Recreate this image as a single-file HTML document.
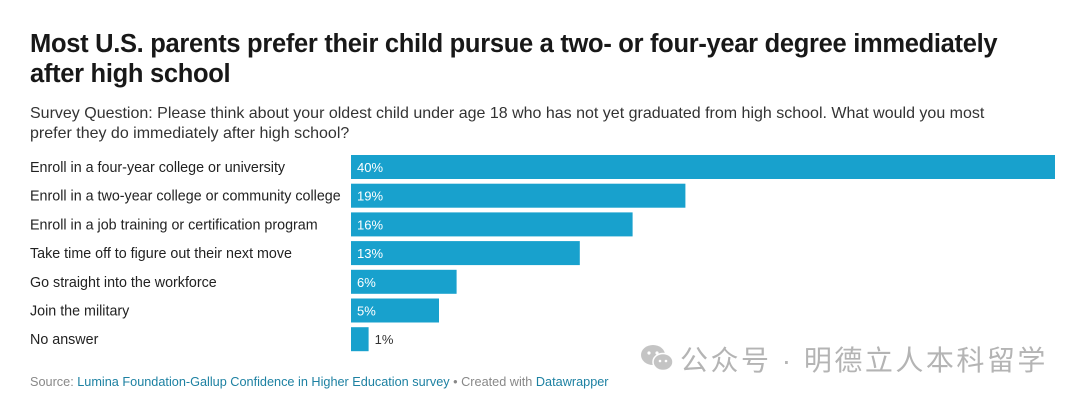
<!DOCTYPE html>
<html><head><meta charset="utf-8"><style>
body{margin:0;width:1080px;height:402px;background:#fff;font-family:"Liberation Sans","Noto Sans CJK SC",sans-serif;position:relative;overflow:hidden;color:#222}
.t{position:absolute;left:30px;top:29px;font-size:25.5px;font-weight:bold;line-height:30px;width:975px;letter-spacing:-0.3px;color:#181818}
.s{position:absolute;left:30px;top:104px;font-size:16px;line-height:19.5px;width:995px;color:#333}
.src{position:absolute;left:30px;top:375px;font-size:12.7px;color:#888}
.src a{color:#1d81a2;text-decoration:none}
.wm{position:absolute;left:680px;top:339px;font-size:28px;color:#b4b4b4;letter-spacing:2.5px}
</style></head><body>
<div class="t">Most U.S. parents prefer their child pursue a two- or four-year degree immediately after high school</div>
<div class="s">Survey Question: Please think about your oldest child under age 18 who has not yet graduated from high school. What would you most prefer they do immediately after high school?</div>
<svg id="c" width="1080" height="402" style="position:absolute;left:0;top:0"></svg>
<div class="src">Source: <a>Lumina Foundation-Gallup Confidence in Higher Education survey</a> • Created with <a>Datawrapper</a></div>
<svg style="position:absolute;left:640px;top:342px" width="36" height="32">
<ellipse cx="13" cy="13" rx="12" ry="10" fill="#c4c4c4"/><ellipse cx="23" cy="20" rx="10" ry="8.5" fill="#c4c4c4" stroke="#fff" stroke-width="1.5"/>
<circle cx="9" cy="11" r="1.6" fill="#fff"/><circle cx="17" cy="11" r="1.6" fill="#fff"/><circle cx="20" cy="19" r="1.3" fill="#fff"/><circle cx="26" cy="19" r="1.3" fill="#fff"/></svg>
<div class="wm">公众号 · 明德立人本科留学</div>
<script>
const categories=["Enroll in a four-year college or university","Enroll in a two-year college or community college","Enroll in a job training or certification program","Take time off to figure out their next move","Go straight into the workforce","Join the military","No answer"];
const values=[40,19,16,13,6,5,1];
const svg=document.getElementById('c');const NS='http://www.w3.org/2000/svg';
const x0=351,pxPer=17.6,top0=155,pitch=28.7,bh=24;
const xs=v=>v*pxPer, ys=i=>top0+i*pitch;
categories.forEach((c,i)=>{
 const y=ys(i);
 const l=document.createElementNS(NS,'text');l.setAttribute('x',30);l.setAttribute('y',y+17);l.setAttribute('font-size','14.3');l.setAttribute('fill','#222');l.textContent=c;
 
 
 svg.appendChild(l);
 const r=document.createElementNS(NS,'rect');r.setAttribute('x',x0);r.setAttribute('y',y);r.setAttribute('width',xs(values[i]));r.setAttribute('height',bh);r.setAttribute('fill','#18a1cd');
 
 
 svg.appendChild(r);
 const t=document.createElementNS(NS,'text');const inside=xs(values[i])>40;
 t.setAttribute('x',inside?x0+6:x0+xs(values[i])+6);t.setAttribute('y',y+17);t.setAttribute('font-size','13');t.setAttribute('fill',inside?'#fff':'#333');t.textContent=values[i]+'%';
 
 
 svg.appendChild(t);
});
</script>
</body></html>
